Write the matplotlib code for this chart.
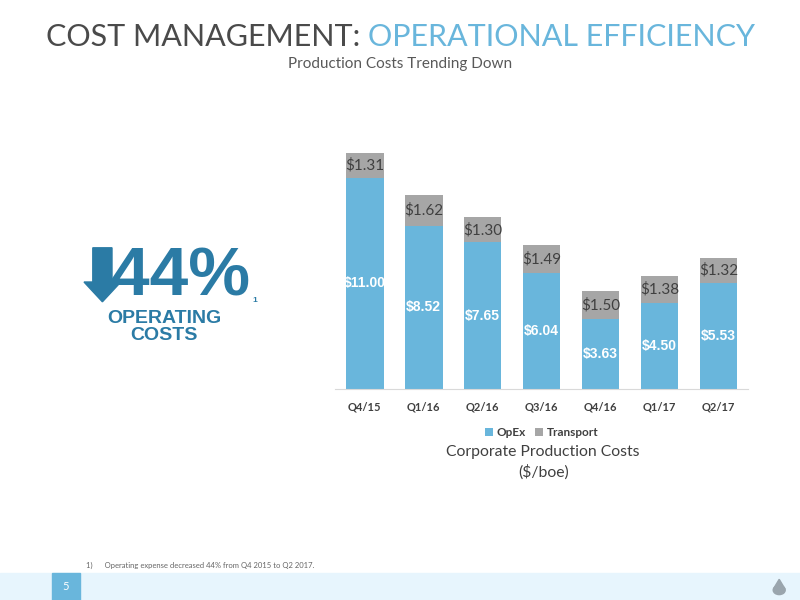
import matplotlib.pyplot as plt
import numpy as np
from matplotlib.patches import Rectangle, FancyArrow, Polygon, Circle

# =====================================================
# DATA
# =====================================================

quarters = ["Q4/15", "Q1/16", "Q2/16", "Q3/16", "Q4/16", "Q1/17", "Q2/17"]
opex = [11.00, 8.52, 7.65, 6.04, 3.63, 4.50, 5.53]
transport = [1.31, 1.62, 1.30, 1.49, 1.50, 1.38, 1.32]

BLUE = "#69B6DC"
GRAY = "#A6A6A6"
DARK = "#404040"
STEEL = "#2B7BA5"

# =====================================================
# FIGURE
# =====================================================

fig = plt.figure(figsize=(8, 6), dpi=100)
fig.patch.set_facecolor("white")

# ---- title (two colours)
t1 = fig.text(0.5, 0.939, "COST MANAGEMENT: ", fontsize=22, family="Lato",
              fontweight="normal", color="#4A4A4A", ha="right", va="center")
t2 = fig.text(0.5, 0.939, "OPERATIONAL EFFICIENCY", fontsize=22, family="Lato",
              color=BLUE, ha="left", va="center")
fig.canvas.draw()
r = fig.canvas.get_renderer()
w1 = t1.get_window_extent(r).width
w2 = t2.get_window_extent(r).width
shift = (w1 - w2) / 2 / 800
t1.set_x(0.5 + shift)
t2.set_x(0.5 + shift)

fig.text(0.5, 0.893, "Production Costs Trending Down", fontsize=11,
         family="Lato", color="#595959", ha="center", va="center")

# ---- chart
ax = fig.add_axes([0.419, 0.352, 0.516, 0.415])
x = np.arange(len(quarters))
ax.bar(x, opex, width=0.64, color=BLUE, label="OpEx")
ax.bar(x, transport, width=0.64, bottom=opex, color=GRAY, label="Transport")

for i in range(len(quarters)):
    ax.text(x[i], opex[i] / 2, f"${opex[i]:.2f}", ha="center", va="center",
            color="white", fontsize=10, fontweight="bold", family="Liberation Sans")
    ax.text(x[i], opex[i] + transport[i] / 2, f"${transport[i]:.2f}",
            ha="center", va="center", color=DARK, fontsize=11, family="Lato")

ax.set_xlim(-0.5, len(quarters) - 0.5)
ax.set_ylim(0, 13)
ax.set_yticks([])
for s in ["top", "right", "left"]:
    ax.spines[s].set_visible(False)
ax.spines["bottom"].set_color("#D9D9D9")
ax.set_xticks(x)
ax.set_xticklabels(quarters, fontsize=8, family="Lato", fontweight="bold", color=DARK)
ax.tick_params(axis="x", length=0, pad=9)

leg = ax.legend(loc="upper center", bbox_to_anchor=(0.5, -0.11), ncol=2,
                frameon=False, handlelength=0.7, handleheight=0.7,
                handletextpad=0.3, columnspacing=0.8,
                prop={"family": "Lato", "weight": "bold", "size": 8.5})
for t in leg.get_texts():
    t.set_color(DARK)

fig.text(0.679, 0.247, "Corporate Production Costs", fontsize=11.3, family="Lato",
         color=DARK, ha="center", va="center")
fig.text(0.679, 0.214, "($/boe)", fontsize=11.3, family="Lato",
         color=DARK, ha="center", va="center")

# ---- 44% call-out
fig.add_artist(FancyArrow(0.128, 0.587, 0, -0.09, width=0.024,
                          head_width=0.046, head_length=0.033,
                          length_includes_head=True, color=STEEL,
                          transform=fig.transFigure))
fig.text(0.139, 0.537, "44%", fontsize=50, fontweight="bold",
         family="Liberation Sans", color=STEEL, ha="left", va="center")
fig.text(0.316, 0.5, "1", fontsize=6, fontweight="bold",
         family="Liberation Sans", color=STEEL, ha="left", va="center")
fig.text(0.205, 0.469, "OPERATING", fontsize=14, fontweight="bold",
         family="Liberation Sans", color=STEEL, ha="center", va="center")
fig.text(0.205, 0.44, "COSTS", fontsize=14, fontweight="bold",
         family="Liberation Sans", color=STEEL, ha="center", va="center")

# ---- footnote and footer band
fig.text(0.107, 0.058, "1)      Operating expense decreased 44% from Q4 2015 to Q2 2017.",
         fontsize=5.5, family="Lato", color="#666666", ha="left", va="center")
fig.add_artist(Rectangle((0, 0), 1, 0.045, transform=fig.transFigure,
                         color="#E7F5FD", zorder=0))
fig.add_artist(Rectangle((0.065, 0), 0.035, 0.045, transform=fig.transFigure,
                         color=BLUE, zorder=1))
fig.text(0.0825, 0.0225, "5", fontsize=8, family="Lato", color="white",
         ha="center", va="center")
# small drop icon
fig.add_artist(Circle((0.974, 0.0165), 0.0075, transform=fig.transFigure,
                      color="#9AA5AD", zorder=2))
fig.add_artist(Polygon([[0.9668, 0.0185], [0.9812, 0.0185], [0.974, 0.0345]],
                       closed=True, transform=fig.transFigure,
                       color="#9AA5AD", zorder=2))

fig.savefig("out.png", dpi=100)
